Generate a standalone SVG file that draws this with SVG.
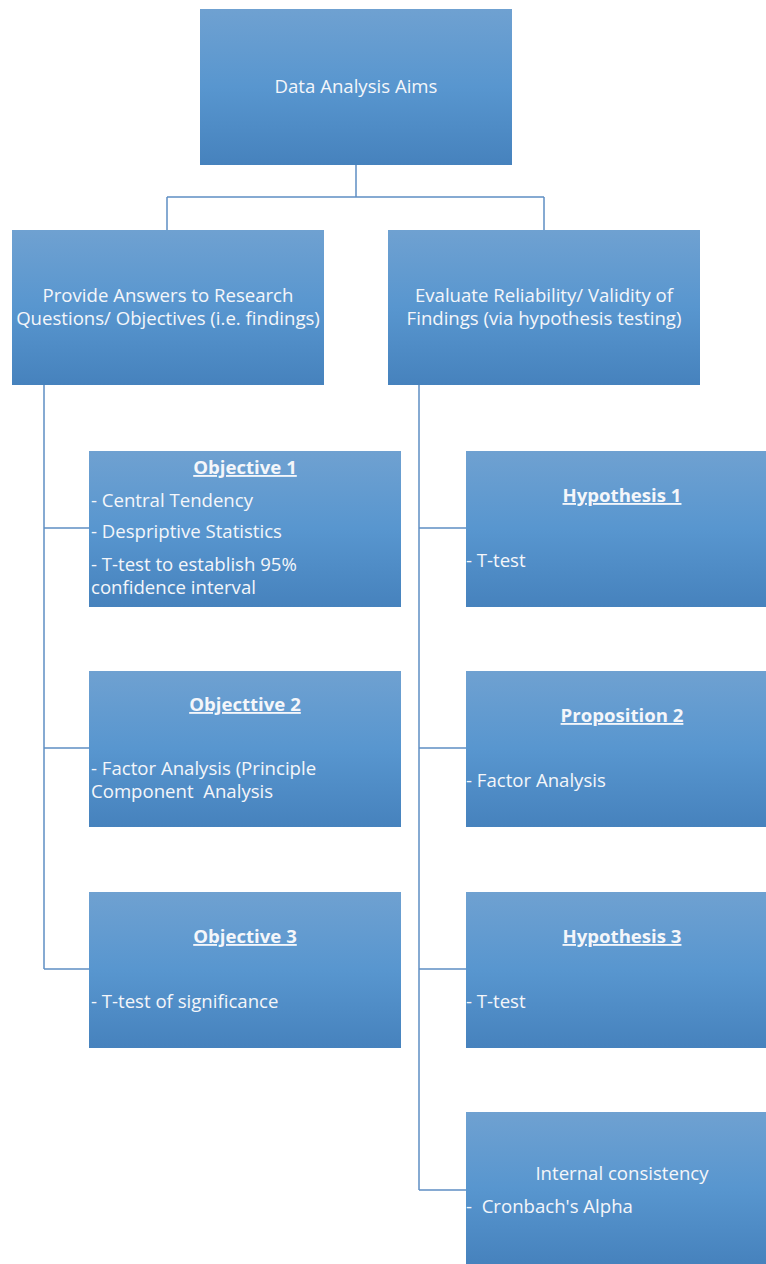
<svg xmlns="http://www.w3.org/2000/svg" width="766" height="1264" viewBox="0 0 766 1264">
<defs>
<linearGradient id="g" x1="0" y1="0" x2="0" y2="1">
<stop offset="0" stop-color="#6fa1d1"/>
<stop offset="0.5" stop-color="#5896cf"/>
<stop offset="1" stop-color="#4682bd"/>
</linearGradient>
<style>
.box{fill:url(#g);}
.t{font-family:"Open Sans","Liberation Sans",sans-serif;font-size:18.6px;fill:#f4f6fa;}
.c{text-anchor:middle;}
.h{font-weight:bold;text-decoration:underline;}
.conn{fill:none;stroke:#5f8fc4;stroke-width:1.5;}
</style>
</defs>
<rect width="766" height="1264" fill="#ffffff"/>
<g id="connectors">
<path class="conn" d="M356 165V197M167 197H544M167 197V230M544 197V230"/>
<path class="conn" d="M44 385V969M44 528H89M44 748H89M44 969H89"/>
<path class="conn" d="M419 385V1190M419 528H466M419 748H466M419 969H466M419 1190H466"/>
</g>
<g id="root">
<rect class="box" x="200" y="9" width="312" height="156"/>
<text class="t c" x="356" y="93">Data Analysis Aims</text>
</g>
<g id="answers">
<rect class="box" x="12" y="230" width="312" height="155"/>
<text class="t c" x="168" y="302">Provide Answers to Research</text>
<text class="t c" x="168" y="325">Questions/ Objectives (i.e. findings)</text>
</g>
<g id="evaluate">
<rect class="box" x="388" y="230" width="312" height="155"/>
<text class="t c" x="544" y="302">Evaluate Reliability/ Validity of</text>
<text class="t c" x="544" y="325">Findings (via hypothesis testing)</text>
</g>
<g id="objective1">
<rect class="box" x="89" y="451" width="312" height="156"/>
<text class="t c h" x="245" y="474">Objective 1</text>
<text class="t" x="91" y="507">- Central Tendency</text>
<text class="t" x="91" y="538">- Despriptive Statistics</text>
<text class="t" x="91" y="571">- T-test to establish 95%</text>
<text class="t" x="91" y="594">confidence interval</text>
</g>
<g id="objective2">
<rect class="box" x="89" y="671" width="312" height="156"/>
<text class="t c h" x="245" y="711">Objecttive 2</text>
<text class="t" x="91" y="775">- Factor Analysis (Principle</text>
<text class="t" x="91" y="798" xml:space="preserve">Component  Analysis</text>
</g>
<g id="objective3">
<rect class="box" x="89" y="892" width="312" height="156"/>
<text class="t c h" x="245" y="943">Objective 3</text>
<text class="t" x="91" y="1008">- T-test of significance</text>
</g>
<g id="hypothesis1">
<rect class="box" x="466" y="451" width="300" height="156"/>
<text class="t c h" x="622" y="502">Hypothesis 1</text>
<text class="t" x="466" y="567">- T-test</text>
</g>
<g id="proposition2">
<rect class="box" x="466" y="671" width="300" height="156"/>
<text class="t c h" x="622" y="722">Proposition 2</text>
<text class="t" x="466" y="787">- Factor Analysis</text>
</g>
<g id="hypothesis3">
<rect class="box" x="466" y="892" width="300" height="156"/>
<text class="t c h" x="622" y="943">Hypothesis 3</text>
<text class="t" x="466" y="1008">- T-test</text>
</g>
<g id="internal">
<rect class="box" x="466" y="1112" width="300" height="152"/>
<text class="t c" x="622" y="1180">Internal consistency</text>
<text class="t" x="466" y="1213" xml:space="preserve">-  Cronbach's Alpha</text>
</g>
</svg>
